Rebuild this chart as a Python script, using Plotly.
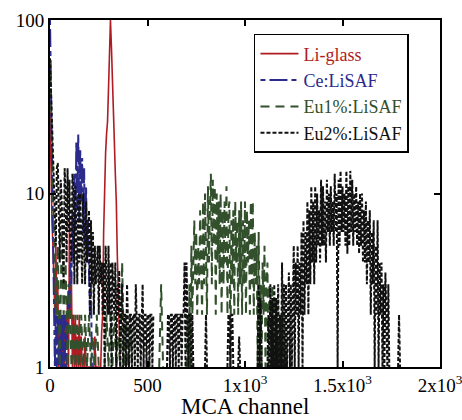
import plotly.graph_objects as go

# ---------------- data (counts) ----------------
# Li-glass, channels 0..375 step 5
li_ch = list(range(0, 380, 5))
li_counts = [30, 10, 7, 5, 3, 2, 5, 2, 3, 1,
             2, 1, 2, 1, 2, 1, 2, 1.5, 2.4, 1,
             7, 2, 3, 1, 2, 1, 2, 1, 1.5, 1,
             2, 1, 1.5, 1, 1, 1, 1.5, 1, 1, 1,
             1, 1, 1, 1, 1, 1, 1.5, 1, 1, 1,
             1, 1, 1, 1.6, 2, 6, 12, 17, 22, 26,
             40, 75, 100, 70, 50, 32, 20, 13, 9, 4.5,
             2.7, 1.6, 1, 1, 1, 1]

# Ce:LiSAF, channels 0..220 step 5
ce_ch = list(range(0, 225, 5))
ce_counts = [100, 40, 12, 4, 2, 1, 2, 1, 2, 1,
             2, 1, 2, 1, 2, 1, 2, 1, 2, 3,
             2, 4, 3, 8, 4, 13, 6, 20, 8, 22,
             7, 18, 9, 16, 6, 14, 5, 11, 4, 7,
             3.6, 2, 3, 1, 1]

# Eu1%:LiSAF, channels 0..690 step 10, then 700..1200 step 5
eu1_ch = list(range(0, 700, 10)) + list(range(700, 1205, 5))
eu1_counts = [60, 20, 6, 2, 5, 1, 6, 2, 4, 1,
              3, 1, 2, 1, 2, 1, 2, 1, 2, 1,
              2, 1, 1.5, 1, 2, 1, None, None, 1, 2,
              1, 2, 1, 2, 1, 1.5, 1, 4, 1, 2,
              1, 2, 1, None, None, None, None, None, None, None,
              None, None, None, None, None, None, 1, 3, 1, None,
              None, None, None, None, None, None, None, None, None, None,
              # 700..1200 step 5
              1, 2, 1, 3, 1, 5, 2, 4, 7, 3,
              6, 2, 5, 3, 8, 4, 2, 9, 3, 10,
              5, 2, 11, 4, 8, 13, 3, 12, 5, 11,
              2, 10, 4, 9, 3, 10, 2, 8, 3, 9,
              4, 11, 2, 8, 9, 1, 7, 3, 8, 2,
              9, 4, 7, 2, 8, 3, 9, 2, 7, 3,
              9, 2, 8, 4, 7, 2, 9, 3, 9, 2,
              6, 3, 5, 1, 6, 2, 3, 1, 4, 2,
              5, 1, 3, 4, 1, 3, 2, 1, 3, 1,
              2.5, 1, 2, 1, 1.5, 1, 2, 1, 2, 1,
              1]

# Eu2%:LiSAF, channels 0..1795 step 5
eu2_ch = list(range(0, 1800, 5))
eu2_counts = [60, 40, 25, 15, 12, 6, 5, 14, 15, 8,
              4, 12, 9, 5, 3, 14, 10, 4, 14, 6,
              12, 5, 4, 13, 11, 3, 11, 6, 3, 10,
              4, 10, 6, 3, 10, 5, 3, 9, 4, 6,
              8, 2, 7, 3, 6, 2, 5, 3, 4, 5,
              2, 5, 3, 4, 2, 4, 1, 5, 3, 2,
              5, 2, 4, 1, 4, 3, 2, 4, 1, 3,
              2, 3.6, 1, 2, 3, 1, 2, 2, 1, 3,
              2, 1, 2, 2, 1, 2, 2, 1, 3, 2,
              1, 2, 2, 1, 2, 3, 1, 2, 2, 1,
              2, 2, 1, 2, 2, 1, 2, None, None, None,
              None, None, None, None, None, None, None, None, None, None,
              1, 2, 2, 1, 2, 2, 1, 2, 2, 1,
              2, 2, 1, 2, 2, 1, 2, 2, 4, 1,
              4, 2, 1, 2, 2, 1, 2, 1, None, None,
              None, None, None, None, None, None, None, None, None, 1,
              2, 1, None, None, None, None, None, None, None, None,
              None, None, None, None, None, None, None, None, None, None,
              None, None, 1, 2, 2, 1, 2, 2, 1, None,
              None, None, None, 1, 1.5, 1, None, None, None, None,
              None, None, None, None, None, None, None, None, None, None,
              None, None, None, 1, 3, 1, 2.5, 1, None, None,
              None, None, None, 1, 2, 1, 3, 1, 2.5, 1,
              3, 1, 2.5, 1, 3, 1, 2, 1, 4, 1,
              3, 1, 3, 1, 2, 3.5, 1, 3, 1, 2,
              5, 1, 4, 2, 5, 1, 4, 2, 6, 1,
              7, 2, 6, 3, 9, 2, 8, 3, 11, 4,
              9, 3, 11, 4, 10, 5, 8, 4, 12, 5,
              11, 5, 9, 4, 12, 6, 10, 5, 11, 6,
              9, 5, 13, 6, 10, 1, 12, 5, 13.5, 6,
              11, 6, 10, 5, 13.5, 4.5, 11, 5, 13.5, 6,
              12, 5, 10, 6, 11, 5, 9, 4.5, 10, 5,
              10, 4, 8, 4, 9, 3, 7, 4, 8, 2,
              6, 3, 7, 1, 5, 2, 7, 1, 4, 2,
              4, 1, 3, 1, 3.5, 2, 1, 3, 1, None,
              None, None, None, None, None, None, None, 1, 2, 1]

x_tickvals = [0, 500, 1000, 1500, 2000]
x_ticktext = ["0", "500", "1x10<sup>3</sup>", "1.5x10<sup>3</sup>", "2x10<sup>3</sup>"]
y_tickvals = [1, 10, 100]
y_ticktext = ["1", "10", "100"]
x_title = "MCA channel"

names = ["Li-glass", "Ce:LiSAF", "Eu1%:LiSAF", "Eu2%:LiSAF"]
colors = ["#b01c24", "#2b2b8c", "#33502c", "#111111"]
dashes = ["solid", "5px,4px,18px,4px", "9px,6px", "4px,2px"]
widths = [1.6, 2, 2, 2]

FONT = "Liberation Serif, Times New Roman, serif"

fig = go.Figure()
series = [(li_ch, li_counts), (ce_ch, ce_counts), (eu1_ch, eu1_counts), (eu2_ch, eu2_counts)]
for (xs, ys), nm, c, d, w in zip(series, names, colors, dashes, widths):
    fig.add_trace(go.Scatter(
        x=xs, y=ys, mode="lines",
        name=f"<span style='color:{c}'>{nm}</span>",
        line=dict(color=c, dash=d, width=w),
        connectgaps=False,
    ))

axis_common = dict(
    showline=True, linecolor="black", linewidth=2, mirror="ticks",
    ticks="inside", ticklen=6, tickwidth=1.5, tickcolor="black",
    showgrid=False, zeroline=False, automargin=False,
    ticklabeloverflow="allow",
    tickfont=dict(family=FONT, size=19, color="black"),
)

fig.update_layout(
    width=462, height=420,
    margin=dict(l=50, r=22, t=20, b=53),
    paper_bgcolor="white", plot_bgcolor="white",
    font=dict(family=FONT, color="black"),
    showlegend=True,
    legend=dict(
        x=0.523, y=0.96, xanchor="left", yanchor="top",
        bgcolor="white", bordercolor="black", borderwidth=1.5,
        font=dict(family=FONT, size=18, color="black"),
        tracegroupgap=0, itemwidth=38,
    ),
    xaxis=dict(
        range=[0, 2000], tickvals=x_tickvals, ticktext=x_ticktext,
        **axis_common,
    ),
    yaxis=dict(
        type="log", range=[0, 2], tickvals=y_tickvals, ticktext=y_ticktext,
        **axis_common,
    ),
    annotations=[dict(
        text=x_title, xref="paper", yref="paper", x=0.5, y=-0.1124,
        xanchor="center", yanchor="middle", showarrow=False,
        font=dict(family=FONT, size=23, color="black"),
    )],
)

fig.write_html("out.html", config={"displayModeBar": False},
               post_script="document.body.style.margin='0';")
